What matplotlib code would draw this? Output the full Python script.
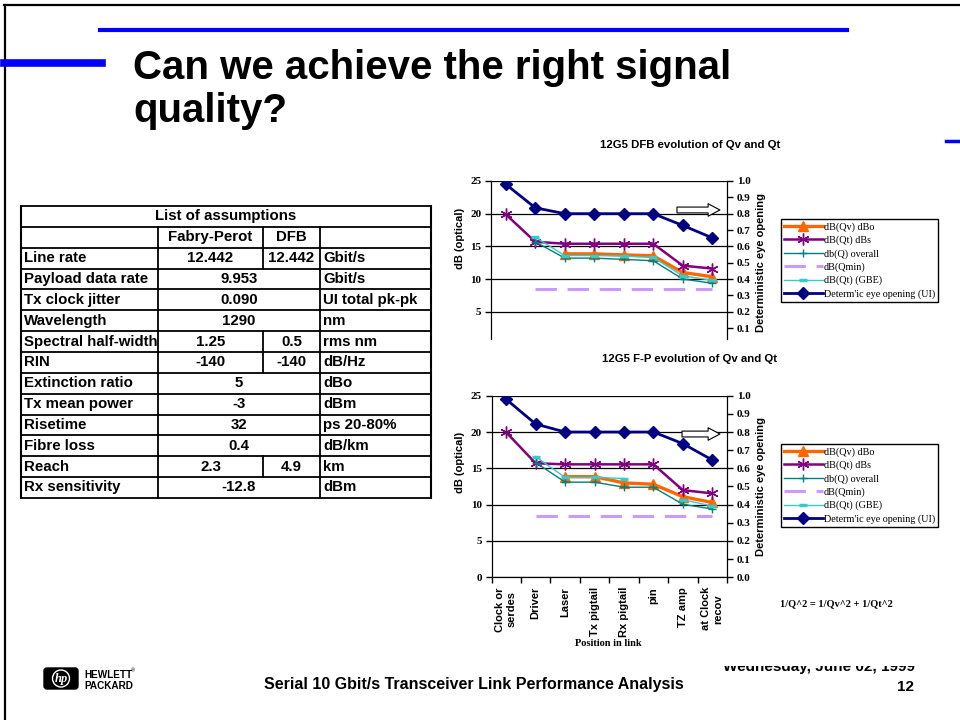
import numpy as np
import matplotlib
matplotlib.use("Agg")
import matplotlib.pyplot as plt
from matplotlib.patches import FancyBboxPatch, Circle
from matplotlib.transforms import Bbox

SANS = "Liberation Sans"
SERIF = "Liberation Serif"
nan = np.nan

# link positions (x categories)
positions = ["Clock or\nserdes", "Driver", "Laser", "Tx pigtail", "Rx pigtail",
             "pin", "TZ amp", "at Clock\nrecov"]

# 12G5 DFB, values in dB (optical), eye opening in UI
dfb_qv = [nan, nan, 13.85, 13.85, 13.7, 13.55, 11.0, 10.35]
dfb_qt = [19.9, 15.7, 15.4, 15.4, 15.4, 15.4, 12.05, 11.6]
dfb_q = [nan, 15.7, 13.2, 13.2, 13.0, 12.8, 10.0, 9.35]
dfb_qmin = [nan, 8.5, 8.5, 8.5, 8.5, 8.5, 8.5, 8.5]
dfb_gbe = [nan, 16.4, 13.6, 13.6, 13.5, 13.3, 10.5, 9.8]
dfb_eye = [0.98, 0.836, 0.80, 0.80, 0.80, 0.80, 0.728, 0.652]

# 12G5 F-P
fp_qv = [nan, nan, 13.85, 13.85, 13.0, 12.8, 11.1, 10.3]
fp_qt = [19.95, 15.7, 15.55, 15.55, 15.55, 15.55, 12.0, 11.55]
fp_q = [nan, 15.8, 13.1, 13.1, 12.4, 12.4, 10.05, 9.4]
fp_qmin = [nan, 8.5, 8.5, 8.5, 8.5, 8.5, 8.5, 8.5]
fp_gbe = [nan, 16.6, 13.75, 13.75, 13.6, nan, 10.7, 9.8]
fp_eye = [0.98, 0.844, 0.80, 0.80, 0.80, 0.80, 0.736, 0.646]

series_labels = ["dB(Qv) dBo", "dB(Qt) dBs", "db(Q) overall", "dB(Qmin)",
                 "dB(Qt) (GBE)", "Determ'ic eye opening (UI)"]

# list of assumptions: parameter, Fabry-Perot, DFB (None = shared), unit
table_params = ["Line rate", "Payload data rate", "Tx clock jitter", "Wavelength",
                "Spectral half-width", "RIN", "Extinction ratio", "Tx mean power",
                "Risetime", "Fibre loss", "Reach", "Rx sensitivity"]
table_fp = ["12.442", "9.953", "0.090", "1290", "1.25", "-140", "5", "-3",
            "32", "0.4", "2.3", "-12.8"]
table_dfb = ["12.442", None, None, None, "0.5", "-140", None, None,
             None, None, "4.9", None]
table_units = ["Gbit/s", "Gbit/s", "UI total pk-pk", "nm", "rms nm", "dB/Hz", "dBo",
               "dBm", "ps 20-80%", "dB/km", "km", "dBm"]

W, H = 960, 720
fig = plt.figure(figsize=(W / 100, H / 100), dpi=100)

# background layer in pixel coordinates for the slide furniture
bg = fig.add_axes([0, 0, 1, 1], zorder=0)
bg.set_xlim(0, W)
bg.set_ylim(H, 0)
bg.axis("off")


def px_clip(artist, left, top, right, bot):
    """clip an artist to a rectangle given in pixels from the top-left"""
    box = Bbox([[left, H - bot], [right, H - top]])
    artist.set_clip_box(box)
    artist.set_clip_on(True)


bg.plot([4, W], [5, 5], color="black", lw=1.6)
bg.plot([4.5, 4.5], [5, H], color="black", lw=1.6)
bg.plot([100, 847], [30, 30], color="#0000FF", lw=3)
bg.plot([4, 102], [63, 63], color="#0000FF", lw=5.5)
bg.plot([946, W], [141, 141], color="#0000FF", lw=2.5)

bg.text(133, 79, "Can we achieve the right signal", fontsize=29, fontweight="bold",
        family=SANS, va="baseline")
bg.text(133, 122, "quality?", fontsize=29, fontweight="bold", family=SANS, va="baseline")

# table
col_x = [21, 158, 263, 320, 431]
row_top = 206
row_h = 20.85
n_rows = len(table_params) + 2
tkw = dict(fontsize=10.8, fontweight="bold", family=SANS, va="center")
bottom = row_top + n_rows * row_h
for i in range(n_rows + 1):
    bg.plot([col_x[0], col_x[-1]], [row_top + i * row_h] * 2, color="black", lw=1.3)
bg.plot([col_x[0]] * 2, [row_top, bottom], color="black", lw=1.5)
bg.plot([col_x[-1]] * 2, [row_top, bottom], color="black", lw=1.5)
for cx in (col_x[1], col_x[3]):
    bg.plot([cx] * 2, [row_top + row_h, bottom], color="black", lw=1.3)
bg.text((col_x[0] + col_x[-1]) / 2, row_top + row_h / 2, "List of assumptions",
        ha="center", **tkw)
yh = row_top + 1.5 * row_h
bg.text((col_x[1] + col_x[2]) / 2, yh, "Fabry-Perot", ha="center", **tkw)
bg.text((col_x[2] + col_x[3]) / 2, yh, "DFB", ha="center", **tkw)
bg.plot([col_x[2]] * 2, [row_top + row_h, row_top + 2 * row_h], color="black", lw=1.3)
for i, (p, fpv, dv, u) in enumerate(zip(table_params, table_fp, table_dfb, table_units)):
    y0 = row_top + (i + 2) * row_h
    yc = y0 + row_h / 2
    t = bg.text(col_x[0] + 3, yc, p, ha="left", **tkw)
    px_clip(t, col_x[0], y0, col_x[1] - 1, y0 + row_h)
    if dv is None:
        bg.text((col_x[1] + col_x[3]) / 2, yc, fpv, ha="center", **tkw)
    else:
        bg.text((col_x[1] + col_x[2]) / 2, yc, fpv, ha="center", **tkw)
        bg.text((col_x[2] + col_x[3]) / 2, yc, dv, ha="center", **tkw)
        bg.plot([col_x[2]] * 2, [y0, y0 + row_h], color="black", lw=1.3)
    bg.text(col_x[3] + 3, yc, u, ha="left", **tkw)

# footer
logo = FancyBboxPatch((44, 668), 34, 21, boxstyle="round,pad=0,rounding_size=3",
                      fc="black", ec="black")
bg.add_patch(logo)
bg.add_patch(Circle((61, 678.5), 8.5, fc="none", ec="white", lw=1))
bg.text(61, 679, "hp", color="white", fontsize=9, fontstyle="italic", fontweight="bold",
        family=SERIF, ha="center", va="center")
bg.text(84, 675, "HEWLETT", fontsize=7.2, fontweight="bold", family=SANS, va="center")
bg.text(131, 670.5, "®", fontsize=4, family=SANS, va="center")
bg.text(84, 686, "PACKARD", fontsize=7.2, fontweight="bold", family=SANS, va="center")
bg.text(474, 684, "Serial 10 Gbit/s Transceiver Link Performance Analysis", fontsize=11.5,
        fontweight="bold", family=SANS, ha="center", va="center")
date = bg.text(915, 671, "Wednesday, June 02, 1999", fontsize=11, fontweight="bold",
               family=SANS, ha="right", va="baseline")
px_clip(date, 600, 665.5, W, 690)
bg.text(914, 687, "12", fontsize=11, fontweight="bold", family=SANS, ha="right", va="center")


def px_rect(left, top, right, bot):
    return [left / W, 1 - bot / H, (right - left) / W, (bot - top) / H]


def draw_chart(rect, title, title_y, qv, qt, q, qmin, gbe, eye, ymin, show_x,
               arrow_x0, arrow_y, legend_top, ylab_y):
    ax = fig.add_axes(rect, zorder=2)
    ax.patch.set_alpha(0)
    x = np.arange(len(positions))
    h_qv, = ax.plot(x, qv, color="#FF6600", lw=2.4, marker="^", ms=7.5)
    h_qt, = ax.plot(x, qt, color="#800080", lw=1.8, marker=(6, 2, 0), ms=8.5,
                    mec="#800080", mew=1)
    h_q, = ax.plot(x, q, color="#008080", lw=1, marker="+", ms=6, mew=1)
    h_qmin, = ax.plot(x, qmin, color="#CC99FF", lw=2.2, dashes=(7, 3.5))
    h_gbe, = ax.plot(x, gbe, color="#33CCCC", lw=1, marker="_", ms=6, mew=2.5)
    ax.set_yticks([0, 5, 10, 15, 20, 25], ["0", "5", "10", "15", "20", "25"],
                  family=SERIF, fontweight="bold", fontsize=8)
    ax.set_xlim(-0.5, len(positions) - 0.5)
    ax.set_ylim(ymin, 25)
    ax.tick_params(axis="y", direction="out", length=4, width=1, pad=3)
    ax.yaxis.grid(True, color="black", lw=0.9)
    ax.set_axisbelow(True)
    ax.spines["top"].set_visible(False)

    ax2 = ax.twinx()
    h_eye, = ax2.plot(x, eye, color="#000080", lw=2, marker="D", ms=6)
    ticks = np.round(np.arange(0, 1.01, 0.1), 1)
    ax2.set_yticks(ticks, [f"{t:.1f}" for t in ticks], family=SERIF,
                   fontweight="bold", fontsize=8)
    ax2.set_ylim(ymin / 25, 1.0)
    ax2.tick_params(axis="y", direction="out", length=4, width=1, pad=3)
    ax2.spines["top"].set_visible(False)

    if show_x:
        ax.set_xticks(x, positions, rotation=90, family=SANS, fontweight="bold",
                      fontsize=8, va="top", ha="center")
        ax.set_xticks(np.arange(-0.5, len(positions)), minor=True)
        ax.set_xlim(-0.5, len(positions) - 0.5)
        ax.tick_params(axis="x", which="major", length=0, pad=7)
        ax.tick_params(axis="x", which="minor", direction="out", length=4, width=1)
    else:
        ax.spines["bottom"].set_visible(False)
        ax2.spines["bottom"].set_visible(False)
        ax.set_xticks([])

    ax2.annotate("", xy=(0.97, arrow_y), xytext=(arrow_x0, arrow_y),
                 xycoords="axes fraction",
                 arrowprops=dict(arrowstyle="simple,head_length=0.85,head_width=0.9,tail_width=0.42",
                                 fc="white", ec="black", lw=0.8, mutation_scale=10,
                                 shrinkA=0, shrinkB=0))

    bg.text(690, title_y, title, fontsize=8.2, fontweight="bold", family=SANS,
            ha="center", va="center")
    bg.text(460, ylab_y, "dB (optical)", fontsize=8, fontweight="bold", family=SANS,
            ha="center", va="center", rotation=90)
    bg.text(761, ylab_y + 25, "Deterministic eye opening", fontsize=8, fontweight="bold",
            family=SANS, ha="center", va="center", rotation=90)

    leg = fig.legend([h_qv, h_qt, h_q, h_qmin, h_gbe, h_eye], series_labels,
                     loc="upper left", bbox_to_anchor=(781 / W, 1 - legend_top / H),
                     bbox_transform=fig.transFigure, prop=dict(family=SERIF, size=7.3),
                     frameon=True, fancybox=False, edgecolor="black", framealpha=1,
                     borderpad=0.3, handlelength=3.8, handletextpad=0.1,
                     labelspacing=0.38, borderaxespad=0, numpoints=1)
    leg.get_frame().set_linewidth(1)
    return ax


draw_chart(px_rect(491, 181, 727, 338.5), "12G5 DFB evolution of Qv and Qt", 145,
           dfb_qv, dfb_qt, dfb_q, dfb_qmin, dfb_gbe, dfb_eye, 0.9, False,
           0.788, 0.816, 219, 238)
draw_chart(px_rect(491.5, 395.7, 727, 577.3), "12G5 F-P evolution of Qv and Qt", 359,
           fp_qv, fp_qt, fp_q, fp_qmin, fp_gbe, fp_eye, 0, True,
           0.809, 0.789, 444, 462)

bg.text(608, 643, "Position in link", fontsize=7.5, fontweight="bold", family=SERIF,
        ha="center", va="center")
bg.text(780, 604, "1/Q^2 = 1/Qv^2 + 1/Qt^2", fontsize=7.5, fontweight="bold", family=SERIF,
        ha="left", va="center")

fig.savefig("out.png", dpi=100)
